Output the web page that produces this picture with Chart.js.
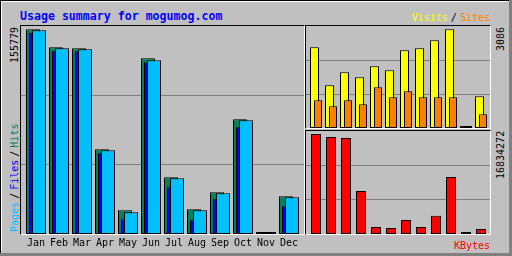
<!DOCTYPE html>
<html>
<head>
<meta charset="utf-8">
<script src="https://cdn.jsdelivr.net/npm/chart.js@4"></script>
<style>
html, body { margin: 0; padding: 0; background: #c0c0c0; }
#frame { position: relative; width: 512px; height: 256px; overflow: hidden; background: #c0c0c0;
  font-family: "DejaVu Sans Mono", monospace; font-size: 10px; line-height: 12px; }
.abs { position: absolute; }
.box { position: absolute; box-sizing: border-box; border-top: 1px solid #000; border-left: 1px solid #000;
  border-right: 1px solid #fff; border-bottom: 1px solid #fff; }
.vert { position: absolute; writing-mode: vertical-rl; transform: rotate(180deg); white-space: nowrap; }
canvas { position: absolute; }
</style>
</head>
<body>
<div id="frame">
  <div class="abs" style="left:0;top:0;width:512px;height:1px;background:#000"></div>
  <div class="abs" style="left:0;top:0;width:1px;height:256px;background:#000"></div>
  <div class="abs" style="left:1px;top:1px;width:507px;height:1px;background:#fff"></div>
  <div class="abs" style="left:1px;top:1px;width:1px;height:251px;background:#fff"></div>
  <div class="abs" style="left:509px;top:0;width:3px;height:256px;background:#808080"></div>
  <div class="abs" style="left:0;top:253px;width:512px;height:3px;background:#808080"></div>

  <div class="abs" style="left:20px;top:9px;font-size:11.6px;line-height:14px;font-weight:bold;color:#0000ff">Usage summary for mogumog.com</div>
  <div class="abs" style="right:22px;top:12px;word-spacing:-3px"><span style="color:#ffff00">Visits</span> / <span style="color:#ff8000">Sites</span></div>
  <div class="abs" style="right:22px;top:240px;color:#ff0000">KBytes</div>

  <div class="vert" style="left:9px;top:27px;width:12px;height:60px;text-align:end">155779</div>
  <div class="vert" style="left:9px;top:100px;width:12px;height:132px;word-spacing:-3px"><span style="color:#00c0ff">Pages</span> / <span style="color:#0000ff">Files</span> / <span style="color:#00805c">Hits</span></div>
  <div class="vert" style="left:495px;top:27px;width:12px;height:40px;text-align:end">3086</div>
  <div class="vert" style="left:495px;top:131px;width:12px;height:60px;text-align:end">16834272</div>

  <div class="box" style="left:20px;top:25px;width:285px;height:210px"></div>
  <div class="box" style="left:305px;top:25px;width:186px;height:104px"></div>
  <div class="box" style="left:305px;top:130px;width:186px;height:105px"></div>

  <canvas id="mainChart" width="283" height="226" style="left:21px;top:26px"></canvas>
  <canvas id="visitChart" width="184" height="102" style="left:306px;top:26px"></canvas>
  <canvas id="kbyteChart" width="184" height="103" style="left:306px;top:131px"></canvas>
</div>

<script>
// Monthly usage data
const months = ["Jan", "Feb", "Mar", "Apr", "May", "Jun", "Jul", "Aug", "Sep", "Oct", "Nov", "Dec"];

const hits  = [155779, 142080, 141320, 64460, 18040, 133710, 43150, 18800, 31730, 87290, 0, 28690];
const files = [153190, 139040, 139000, 61410, 11190, 130670, 35540, 10430, 26410, 81200, 0, 21080];
const pages = [155100, 141320, 140560, 63700, 16510, 132190, 42390, 18040, 30970, 86530, 0, 27930];

const visits = [2523, 1335, 1742, 1585, 1929, 1804, 2430, 2492, 2742, 3086, 0, 991];
const sites  = [866, 679, 866, 741, 1273, 960, 1148, 960, 960, 960, 0, 428];

const kbytes = [16834272, 16329000, 16161000, 7239000, 1178000, 1010000, 2357000, 1178000, 3081000, 9596000, 0, 842000];

// top of each plot, a little above the largest bar
const hitsTop = 158290;
const visitsTop = 3189;
const kbytesTop = 17339300;

function monthAxis(center, step, width, show) {
  return {
    type: "linear",
    position: "bottom",
    display: show,
    offset: false,
    min: -center / step,
    max: (width - center) / step,
    grid: { display: false, drawTicks: false },
    border: { display: false },
    afterBuildTicks: (axis) => {
      axis.ticks = months.map((m, i) => ({ value: i }));
    },
    afterFit: (axis) => {
      axis.height = show ? 18 : 0;
      axis.paddingLeft = 0;
      axis.paddingRight = 0;
    },
    ticks: {
      autoSkip: false,
      maxRotation: 0,
      padding: 3,
      color: "#000",
      font: { family: "DejaVu Sans Mono", size: 10 },
      callback: (v) => months[v],
    },
  };
}

function valueAxis(top) {
  return {
    min: 0,
    max: top,
    border: { display: false },
    grid: { color: "#808080", drawTicks: false },
    ticks: { display: false },
    afterBuildTicks: (axis) => {
      axis.ticks = [{ value: top / 3 }, { value: (top * 2) / 3 }];
    },
    afterFit: (axis) => {
      axis.width = 0;
      axis.paddingTop = 0;
      axis.paddingBottom = 0;
    },
  };
}

function barSet(values, color, axis, percent) {
  return {
    data: values.map((v, i) => ({ x: i, y: v })),
    xAxisID: axis,
    backgroundColor: color,
    borderColor: "#000",
    borderWidth: 1,
    borderSkipped: false,
    minBarLength: 2,
    grouped: false,
    categoryPercentage: 1,
    barPercentage: percent,
  };
}

function makeChart(id, datasets, scales) {
  return new Chart(document.getElementById(id), {
    type: "bar",
    data: { datasets: datasets },
    options: {
      responsive: false,
      animation: false,
      devicePixelRatio: 1,
      layout: { padding: 0 },
      plugins: { legend: { display: false }, tooltip: { enabled: false } },
      scales: scales,
    },
  });
}

// Hits / Files / Pages (pages drawn on top)
makeChart("mainChart", [
  barSet(pages, "#00c0ff", "xp", 14 / 23),
  barSet(files, "#0000ff", "x", 14 / 23),
  barSet(hits, "#00805c", "xh", 14 / 23),
], {
  x: monthAxis(15, 23, 283, true),
  xh: monthAxis(12, 23, 283, false),
  xp: monthAxis(18, 23, 283, false),
  y: valueAxis(hitsTop),
});

// Visits / Sites
makeChart("visitChart", [
  barSet(sites, "#ff8000", "xs", 8 / 15),
  barSet(visits, "#ffff00", "xv", 9 / 15),
], {
  xs: monthAxis(12, 15, 184, false),
  xv: monthAxis(8.5, 15, 184, false),
  y: valueAxis(visitsTop),
});

// KBytes
makeChart("kbyteChart", [
  barSet(kbytes, "#ff0000", "x", 10 / 15),
], {
  x: monthAxis(10, 15, 184, false),
  y: valueAxis(kbytesTop),
});
</script>
</body>
</html>
